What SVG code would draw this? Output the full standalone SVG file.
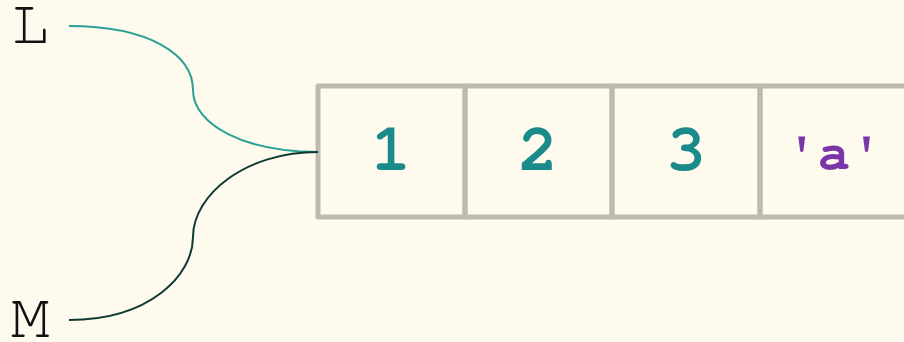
<svg xmlns="http://www.w3.org/2000/svg" width="904" height="342" viewBox="0 0 904 342">
<style>
.lbl{font-family:"Nimbus Mono PS","FreeMono","Courier","Liberation Mono",monospace;font-size:64px;fill:#111}
.cell{fill:none;stroke:#bdbbad;stroke-width:5;stroke-linejoin:round}
.val{font-family:"Nimbus Mono PS","FreeMono","Courier","Liberation Mono",monospace;font-weight:bold;font-size:66px;text-anchor:middle}
.num{fill:#1a8a8a}
.str{fill:#7a35a8;font-size:54px}
.edge{fill:none;stroke-width:2}
</style>
<rect width="904" height="342" fill="#fefaee"/>
<g id="L"><text class="lbl" x="11" y="43">L</text></g>
<g id="M"><text class="lbl" x="11" y="337">M</text></g>
<g id="list">
<rect class="cell" x="318" y="86" width="147" height="131"/>
<rect class="cell" x="465" y="86" width="147" height="131"/>
<rect class="cell" x="612" y="86" width="148" height="131"/>
<rect class="cell" x="760" y="86" width="148" height="131"/>
<text class="val num" x="391" y="170">1</text>
<text class="val num" x="538" y="170">2</text>
<text class="val num" x="686" y="170">3</text>
<text class="val str" x="834" y="169">'a'</text>
</g>
<g id="connectors">
<path class="edge" stroke="#2aa198" d="M69,26 C150,26 193,55 193,90 C193,125 245,152 318,152"/>
<path class="edge" stroke="#0d3b33" d="M69,320 C150,320 193,275 193,237 C193,195 245,152 318,152"/>
</g>
</svg>
